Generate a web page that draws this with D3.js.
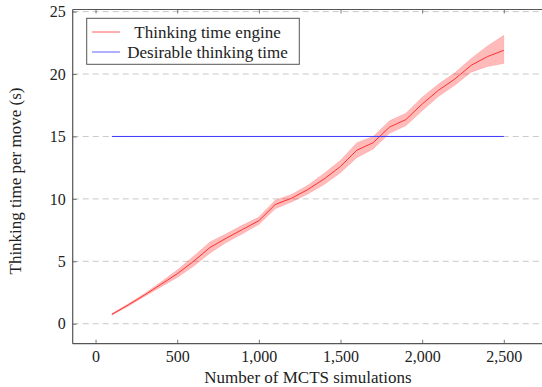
<!DOCTYPE html>
<html><head><meta charset="utf-8">
<script src="https://cdn.jsdelivr.net/npm/d3@7"></script>
<style>body{margin:0;background:#fff;}svg{display:block;}
svg text{font-family:"Liberation Serif","DejaVu Serif","Liberation Sans",serif;}
</style>
</head><body>
<script>
const sims = [100,200,300,400,500,600,700,800,900,1000,1100,1200,1300,1400,1500,1600,1700,1800,1900,2000,2100,2200,2300,2400,2500];
const meanTime = [0.75,1.5,2.3,3.15,4.0,5.0,6.1,6.85,7.55,8.25,9.55,10.05,10.75,11.6,12.6,13.9,14.5,15.75,16.35,17.6,18.7,19.6,20.7,21.4,21.9];
const lowerTime = [0.68,1.4,2.18,2.95,3.7,4.6,5.65,6.5,7.2,7.95,9.2,9.75,10.4,11.15,12.1,13.3,14.0,15.25,15.85,17.05,18.2,19.1,20.15,20.6,20.85];
const upperTime = [0.82,1.6,2.42,3.35,4.3,5.4,6.55,7.2,7.9,8.55,9.9,10.35,11.1,12.05,13.1,14.5,15.0,16.25,16.85,18.15,19.2,20.1,21.25,22.25,23.1];
const desirable = 15;
const xTicks = [0,500,1000,1500,2000,2500];
const yTicks = [0,5,10,15,20,25];
const legendLabels = ["Thinking time engine","Desirable thinking time"];

const W=542,H=387;
const L=72.7,R=543,T=9.5,B=343.7;
const svg=d3.select("body").append("svg").attr("width",W).attr("height",H);
const x=d3.scaleLinear().domain([-140,2740]).range([L,R]);
const y=d3.scaleLinear().domain([-1.6,25.17]).range([B,T]);
const axisCol="#555";

svg.append("g").selectAll("line").data(yTicks).join("line")
  .attr("x1",L).attr("x2",R).attr("y1",d=>y(d)).attr("y2",d=>y(d))
  .attr("stroke","#c8c8c8").attr("stroke-width",1).attr("stroke-dasharray","6,4");

const data=sims.map((s,i)=>({s,m:meanTime[i],lo:lowerTime[i],hi:upperTime[i]}));
svg.append("path").datum(data)
  .attr("d",d3.area().x(d=>x(d.s)).y0(d=>y(d.lo)).y1(d=>y(d.hi)))
  .attr("fill","#ff0000").attr("fill-opacity",0.27).attr("stroke","#ff0000").attr("stroke-opacity",0.2).attr("stroke-width",0.6);
svg.append("path").datum(data)
  .attr("d",d3.line().x(d=>x(d.s)).y(d=>y(d.m)))
  .attr("fill","none").attr("stroke","#ff2020").attr("stroke-width",0.9);
svg.append("line").attr("x1",x(sims[0])).attr("x2",x(sims[sims.length-1]))
  .attr("y1",y(desirable)).attr("y2",y(desirable)).attr("stroke","#3a3aff").attr("stroke-width",1);

const xb=svg.append("g").attr("transform",`translate(0,${B})`)
  .call(d3.axisBottom(x).tickValues(xTicks).tickFormat(d3.format(",")).tickSizeInner(-4).tickSizeOuter(0).tickPadding(7));
const xt=svg.append("g").attr("transform",`translate(0,${T})`)
  .call(d3.axisTop(x).tickValues(xTicks).tickFormat("").tickSizeInner(-4).tickSizeOuter(0));
const yl=svg.append("g").attr("transform",`translate(${L},0)`)
  .call(d3.axisLeft(y).tickValues(yTicks).tickSizeInner(-4).tickSizeOuter(0).tickPadding(7));
[xb,xt,yl].forEach(g=>{
  g.attr("font-family",null);
  g.select(".domain").attr("stroke",axisCol).attr("stroke-width",1.2);
  g.selectAll(".tick line").attr("stroke",axisCol).attr("stroke-width",0.8);
  g.selectAll("text").attr("font-size",16).attr("fill","#222");
});
yl.select(".domain").attr("d",`M0,${T}V${B}`);
xb.select(".domain").attr("d",`M${L},0H${R}`);
xt.select(".domain").attr("d",`M${L},0H${R}`);

svg.append("text").attr("x",308).attr("y",383).attr("text-anchor","middle")
  .attr("font-size",17).attr("fill","#222").text("Number of MCTS simulations");
svg.append("text").attr("transform",`translate(21,181) rotate(-90)`).attr("text-anchor","middle")
  .attr("font-size",17).attr("fill","#222").text("Thinking time per move (s)");

const lg=svg.append("g");
lg.append("rect").attr("x",86.7).attr("y",18.3).attr("width",212.6).attr("height",46)
  .attr("fill","#fff").attr("stroke",axisCol).attr("stroke-width",1);
const cols=["#ff6060","#6060ff"];
legendLabels.forEach((t,i)=>{
  const yy=32+i*20;
  lg.append("line").attr("x1",92).attr("x2",120).attr("y1",yy).attr("y2",yy).attr("stroke",cols[i]).attr("stroke-width",1);
  lg.append("text").attr("x",207.5).attr("y",yy+5.5).attr("text-anchor","middle")
    .attr("font-size",17).attr("fill","#222").text(t);
});
</script>
</body></html>
